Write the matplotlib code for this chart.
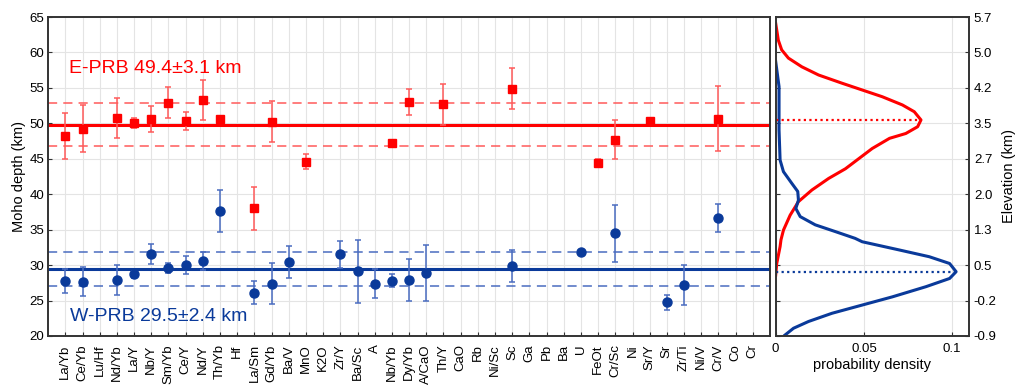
import numpy as np
import matplotlib
matplotlib.use('Agg')
import matplotlib.pyplot as plt

plt.rcParams['font.family'] = ['Liberation Sans', 'DejaVu Sans']

# ---- data ----
cats = ['La/Yb', 'Ce/Yb', 'Lu/Hf', 'Nd/Yb', 'La/Y', 'Nb/Y', 'Sm/Yb', 'Ce/Y', 'Nd/Y',
        'Th/Yb', 'Hf', 'La/Sm', 'Gd/Yb', 'Ba/V', 'MnO', 'K2O', 'Zr/Y', 'Ba/Sc', 'A',
        'Nb/Yb', 'Dy/Yb', 'A/CaO', 'Th/Y', 'CaO', 'Rb', 'Ni/Sc', 'Sc', 'Ga', 'Pb', 'Ba',
        'U', 'FeOt', 'Cr/Sc', 'Ni', 'Sr/Y', 'Sr', 'Zr/Ti', 'Ni/V', 'Cr/V', 'Co', 'Cr']

# E-PRB (red squares)
red_cats = ['La/Yb', 'Ce/Yb', 'Nd/Yb', 'La/Y', 'Nb/Y', 'Sm/Yb', 'Ce/Y', 'Nd/Y', 'Th/Yb',
            'La/Sm', 'Gd/Yb', 'MnO', 'Nb/Yb', 'Dy/Yb', 'Th/Y', 'Sc', 'FeOt', 'Cr/Sc',
            'Sr/Y', 'Cr/V']
red_val = [48.2, 49.25, 50.8, 50.1, 50.6, 52.9, 50.3, 53.25, 50.65,
           38.0, 50.2, 44.6, 47.2, 53.0, 52.7, 54.9, 44.4, 47.7,
           50.3, 50.65]
red_err = [3.2, 3.3, 2.8, 0.7, 1.8, 2.2, 1.3, 2.85, 0.3,
           3.0, 2.9, 1.1, 0.3, 1.8, 2.9, 2.85, 0.5, 2.7,
           0.3, 4.55]

# W-PRB (blue circles)
blue_cats = ['La/Yb', 'Ce/Yb', 'Nd/Yb', 'La/Y', 'Nb/Y', 'Sm/Yb', 'Ce/Y', 'Nd/Y', 'Th/Yb',
             'La/Sm', 'Gd/Yb', 'Ba/V', 'Zr/Y', 'Ba/Sc', 'A', 'Nb/Yb', 'Dy/Yb', 'A/CaO',
             'Sc', 'U', 'Cr/Sc', 'Sr', 'Zr/Ti', 'Cr/V']
blue_val = [27.8, 27.65, 27.9, 28.7, 31.6, 29.55, 30.0, 30.6, 37.6,
            26.1, 27.4, 30.5, 31.5, 29.1, 27.4, 27.8, 27.9, 28.9,
            29.9, 31.85, 34.5, 24.75, 27.2, 36.6]
blue_err = [1.7, 2.05, 2.05, 0.5, 1.4, 0.7, 1.25, 1.25, 2.95,
            1.65, 2.9, 2.25, 1.9, 4.4, 2.05, 0.95, 2.9, 3.9,
            2.3, 0.3, 4.0, 1.1, 2.8, 1.95]

red_mean, red_sd = 49.8, 3.05
blue_mean, blue_sd = 29.45, 2.45
red_label = 'E-PRB 49.4\u00b13.1 km'
blue_label = 'W-PRB 29.5\u00b12.4 km'

# probability density curves vs elevation (km)
red_elev = [5.57, 5.22, 5.02, 4.85, 4.67, 4.50, 4.33, 4.19, 4.05, 3.88, 3.74, 3.57,
            3.43, 3.29, 3.19, 2.98, 2.77, 2.56, 2.36, 2.12, 1.88, 1.60, 1.29, 1.09,
            0.95, 0.60, 0.36]
red_dens = [0.0, 0.0015, 0.0034, 0.0072, 0.0148, 0.0243, 0.0376, 0.049, 0.0604, 0.0718,
            0.0785, 0.0823, 0.0804, 0.0737, 0.0645, 0.0547, 0.0471, 0.0395, 0.030,
            0.0205, 0.0129, 0.0082, 0.0044, 0.003, 0.0025, 0.0006, 0.0]
blue_elev = [4.78, 4.26, 3.36, 2.74, 2.50, 2.26, 2.09, 1.91, 1.74, 1.57, 1.40, 1.26,
             1.12, 1.05, 0.88, 0.74, 0.60, 0.43, 0.29, 0.12, -0.09, -0.26, -0.43,
             -0.60, -0.74, -0.88]
blue_dens = [0.0, 0.0019, 0.0019, 0.0025, 0.0044, 0.0091, 0.0125, 0.0129, 0.0114,
             0.0139, 0.0224, 0.0338, 0.0450, 0.049, 0.070, 0.087, 0.0985, 0.1022,
             0.0985, 0.0851, 0.0661, 0.049, 0.0319, 0.0186, 0.0101, 0.0053]
red_peak = (0.0823, 3.57)
blue_peak = (0.1022, 0.42)

elev_ticks = np.linspace(-0.9, 5.7, 10)
elev_labels = ['-0.9', '-0.2', '0.5', '1.3', '2.0', '2.7', '3.5', '4.2', '5.0', '5.7']

# ---- colours ----
RED = '#ff0000'
RED_LT = '#ff5a5a'
BLUE = '#0a3a9a'
BLUE_LT = '#4a6cc0'
SPINE = '#333333'
GRID = '#e4e4e4'

fig = plt.figure(figsize=(10.24, 3.91), dpi=100)
ax = fig.add_axes([0.047, 0.1407, 0.705, 0.8158])
ax2 = fig.add_axes([0.7575, 0.1407, 0.1888, 0.8158])

idx = {c: i for i, c in enumerate(cats)}
rx = [idx[c] for c in red_cats]
bx = [idx[c] for c in blue_cats]

ax.set_axisbelow(True)
ax.grid(True, color=GRID, lw=0.8)

ax.axhline(red_mean, color=RED, lw=2.2, zorder=2)
ax.axhline(red_mean + red_sd, color=RED_LT, lw=1.1, ls=(0, (6, 4)), zorder=2)
ax.axhline(red_mean - red_sd, color=RED_LT, lw=1.1, ls=(0, (6, 4)), zorder=2)
ax.axhline(blue_mean, color=BLUE, lw=2.2, zorder=2)
ax.axhline(blue_mean + blue_sd, color=BLUE_LT, lw=1.1, ls=(0, (6, 4)), zorder=2)
ax.axhline(blue_mean - blue_sd, color=BLUE_LT, lw=1.1, ls=(0, (6, 4)), zorder=2)

ax.errorbar(rx, red_val, yerr=red_err, fmt='none', ecolor=RED_LT, elinewidth=1.1,
            capsize=2, capthick=1.1, zorder=3)
ax.plot(rx, red_val, 's', color=RED, ms=6, zorder=4)
ax.errorbar(bx, blue_val, yerr=blue_err, fmt='none', ecolor=BLUE_LT, elinewidth=1.1,
            capsize=2, capthick=1.1, zorder=3)
ax.plot(bx, blue_val, 'o', color=BLUE, ms=6.5, zorder=4)

ax.text(0.2, 57.8, red_label, color=RED, fontsize=14, va='center', ha='left')
ax.text(0.25, 22.7, blue_label, color=BLUE, fontsize=14, va='center', ha='left')

ax.set_xlim(-1, len(cats))
ax.set_ylim(20, 65)
ax.set_xticks(range(len(cats)))
ax.set_xticklabels(cats, rotation=90, fontsize=9.5)
ax.set_yticks(np.arange(20, 66, 5))
ax.tick_params(axis='y', labelsize=9.5)
ax.tick_params(direction='in', length=3, color=SPINE, pad=3)
ax.tick_params(axis='x', pad=6)
ax.set_ylabel('Moho depth (km)', fontsize=10.5, labelpad=2)
for s in ax.spines.values():
    s.set_color(SPINE)
    s.set_linewidth(1.4)

# right panel
ax2.set_axisbelow(True)
ax2.grid(True, color=GRID, lw=0.8)
ax2.plot(red_dens, red_elev, color=RED, lw=2.2, solid_joinstyle='round')
ax2.plot(blue_dens, blue_elev, color=BLUE, lw=2.2, solid_joinstyle='round')
ax2.plot([0, red_peak[0]], [red_peak[1]] * 2, color=RED, lw=1.6, ls=(0, (1, 1.5)))
ax2.plot([0, blue_peak[0]], [blue_peak[1]] * 2, color=BLUE, lw=1.6, ls=(0, (1, 1.5)))
ax2.set_xlim(0, 0.1095)
ax2.set_ylim(-0.9, 5.7)
ax2.set_xticks([0, 0.05, 0.1])
ax2.set_xticklabels(['0', '0.05', '0.1'])
ax2.set_yticks(elev_ticks)
ax2.set_yticklabels(elev_labels)
ax2.yaxis.tick_right()
ax2.yaxis.set_label_position('right')
ax2.tick_params(direction='in', length=3, color=SPINE, labelsize=9.5, left=True, right=True)
ax2.tick_params(axis='x', pad=5)
ax2.set_xlabel('probability density', fontsize=10.5, labelpad=2)
ax2.set_ylabel('Elevation (km)', fontsize=10.5, labelpad=4)
for s in ax2.spines.values():
    s.set_color(SPINE)
    s.set_linewidth(1.4)

fig.savefig('out.png', dpi=100, facecolor='white')
